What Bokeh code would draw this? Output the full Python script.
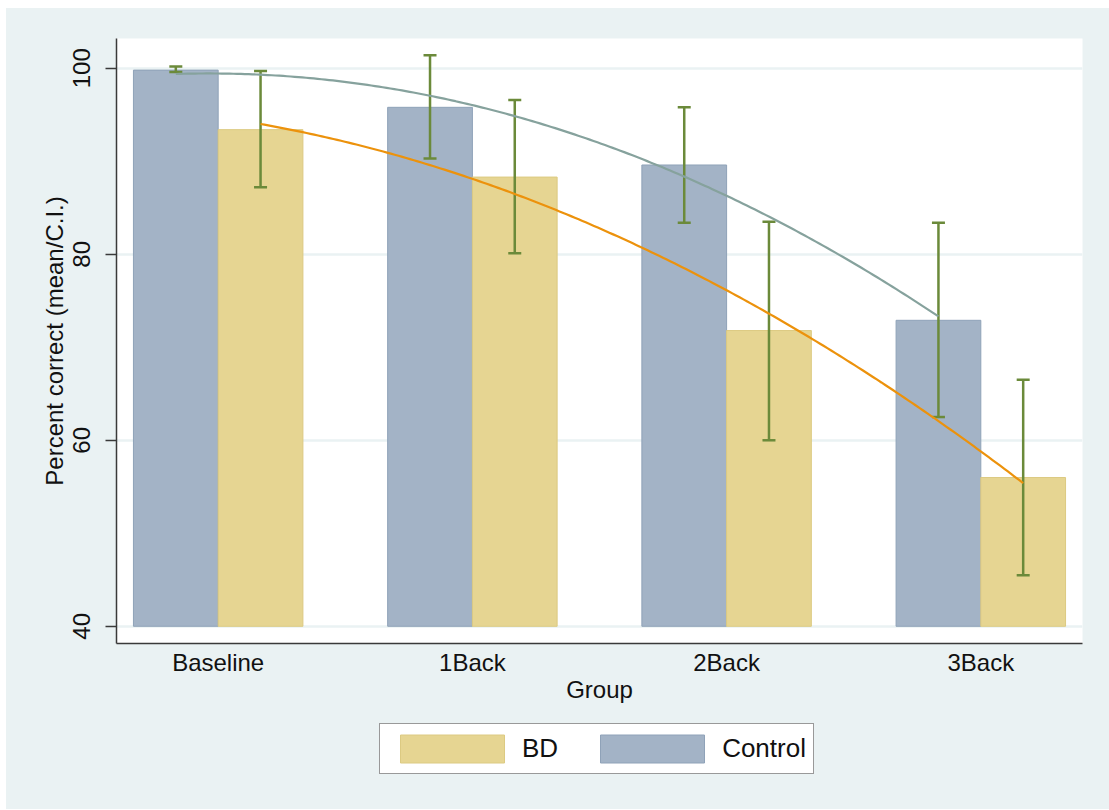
import numpy as np
from bokeh.plotting import figure
from bokeh.layouts import column, row
from bokeh.models import (ColumnDataSource, Whisker, TeeHead, FixedTicker,
                          Legend, LegendItem, Range1d, Spacer)
from bokeh.embed import file_html
from bokeh.resources import INLINE

# ---------------- data ----------------
groups = ["Baseline", "1Back", "2Back", "3Back"]

control_mean = [99.8, 95.8, 89.6, 72.9]
control_lower = [99.6, 90.3, 83.4, 62.5]
control_upper = [100.2, 101.4, 95.8, 83.4]

bd_mean = [93.4, 88.3, 71.8, 56.0]
bd_lower = [87.2, 80.1, 60.0, 45.5]
bd_upper = [99.7, 96.6, 83.5, 66.5]

y_ticks = [40, 60, 80, 100]

# ---------------- styling ----------------
BG = "#EAF2F3"
CTRL_FILL = "#A3B3C6"
CTRL_LINE = "#8FA2B8"
BD_FILL = "#E6D592"
BD_LINE = "#DCCA82"
ERR = "#6B8A3A"
CTRL_FIT = "#86A29D"
BD_FIT = "#EC920C"
FONT = "Liberation Sans"

pos = np.arange(1, len(groups) + 1, dtype=float)
bar_w = 1.0 / 3.0
ctrl_x = pos - bar_w / 2
bd_x = pos + bar_w / 2

ctrl_src = ColumnDataSource(dict(x=ctrl_x, top=control_mean,
                                 lower=control_lower, upper=control_upper))
bd_src = ColumnDataSource(dict(x=bd_x, top=bd_mean,
                               lower=bd_lower, upper=bd_upper))

# quadratic fit of the group means (as in the original figure)
t = np.linspace(pos[0], pos[-1], 200)
ctrl_fit = np.polyval(np.polyfit(pos, control_mean, 2), t)
bd_fit = np.polyval(np.polyfit(pos, bd_mean, 2), t)

FIG_W = 1103
ML, MR = 110, 27

p = figure(width=FIG_W, height=702,
           x_range=Range1d(0.6, 4.4), y_range=Range1d(38.15, 103.2),
           output_backend="svg", toolbar_location=None,
           min_border_left=ML, min_border_right=MR,
           min_border_top=30, min_border_bottom=67,
           border_fill_color=BG, background_fill_color="white",
           outline_line_color=None)

p.vbar(x="x", top="top", bottom=40, width=bar_w, source=ctrl_src,
       fill_color=CTRL_FILL, line_color=CTRL_LINE, line_width=1)
p.vbar(x="x", top="top", bottom=40, width=bar_w, source=bd_src,
       fill_color=BD_FILL, line_color=BD_LINE, line_width=1)

for src in (ctrl_src, bd_src):
    w = Whisker(source=src, base="x", upper="upper", lower="lower",
                level="annotation",
                line_color=ERR, line_width=2.5,
                upper_head=TeeHead(size=13, line_color=ERR, line_width=2.5),
                lower_head=TeeHead(size=13, line_color=ERR, line_width=2.5))
    p.add_layout(w)

p.line(t - bar_w / 2, ctrl_fit, line_color=CTRL_FIT, line_width=2.2,
       level="overlay")
p.line(t + bar_w / 2, bd_fit, line_color=BD_FIT, line_width=2.2,
       level="overlay")

# ---------------- axes ----------------
p.xgrid.visible = False
p.ygrid.ticker = FixedTicker(ticks=y_ticks)
p.ygrid.grid_line_color = BG
p.ygrid.grid_line_width = 2.5

xa = p.xaxis[0]
xa.ticker = FixedTicker(ticks=list(pos))
xa.major_label_overrides = {float(v): g for v, g in zip(pos, groups)}
xa.major_label_overrides.update({int(v): g for v, g in zip(pos, groups)})
xa.major_tick_out = 0
xa.major_tick_in = 0
xa.minor_tick_line_color = None
xa.major_label_standoff = 5
xa.axis_label = "Group"
xa.axis_label_standoff = -3

ya = p.yaxis[0]
ya.ticker = FixedTicker(ticks=y_ticks)
ya.major_tick_out = 11
ya.major_tick_in = 0
ya.minor_tick_line_color = None
ya.major_label_orientation = "vertical"
ya.major_label_standoff = 15
ya.axis_label = "Percent correct (mean/C.I.)"
ya.axis_label_standoff = 3

for ax in (xa, ya):
    ax.axis_line_color = "#3A3A3A"
    ax.axis_line_width = 1.5
    ax.major_tick_line_color = "#3A3A3A"
    ax.major_tick_line_width = 1.5
    ax.major_label_text_font = FONT
    ax.major_label_text_font_size = "24px"
    ax.major_label_text_color = "#111111"
    ax.axis_label_text_font = FONT
    ax.axis_label_text_font_size = "24px"
    ax.axis_label_text_font_style = "normal"
    ax.axis_label_text_color = "#111111"

# ---------------- legend strip (continues the figure's background) ----------------
lf = figure(width=FIG_W, height=99, x_range=Range1d(-10, -9), y_range=Range1d(0, 1),
            output_backend="svg", toolbar_location=None,
            x_axis_location=None, y_axis_location=None,
            min_border_left=0, min_border_right=0,
            min_border_top=0, min_border_bottom=0,
            border_fill_alpha=0, background_fill_alpha=0,
            outline_line_color=None)
lf.xgrid.visible = False
lf.ygrid.visible = False

# legend keys reuse the bar data; they are not drawn in this strip
bd_key = lf.vbar(x="x", top="top", bottom=40, width=bar_w, source=bd_src,
                 fill_color=BD_FILL, line_color=BD_LINE, line_width=1,
                 visible=False)
ctrl_key = lf.vbar(x="x", top="top", bottom=40, width=bar_w, source=ctrl_src,
                   fill_color=CTRL_FILL, line_color=CTRL_LINE, line_width=1,
                   visible=False)

legend = Legend(items=[LegendItem(label="BD", renderers=[bd_key]),
                       LegendItem(label="Control", renderers=[ctrl_key])],
                orientation="horizontal", location=(263, 35),
                glyph_width=130, glyph_height=35,
                label_text_font=FONT, label_text_font_size="26px",
                label_text_color="#111111",
                label_standoff=5, spacing=29, padding=7, margin=0,
                border_line_color="#333333", border_line_width=1.2,
                background_fill_color="white", background_fill_alpha=1.0)
lf.add_layout(legend, "center")

inner = column(p, lf, spacing=0, styles={"background-color": BG})
layout = column(Spacer(height=8),
                row(Spacer(width=6), inner, spacing=0),
                spacing=0)

open("out.html", "w").write(file_html(layout, INLINE))
